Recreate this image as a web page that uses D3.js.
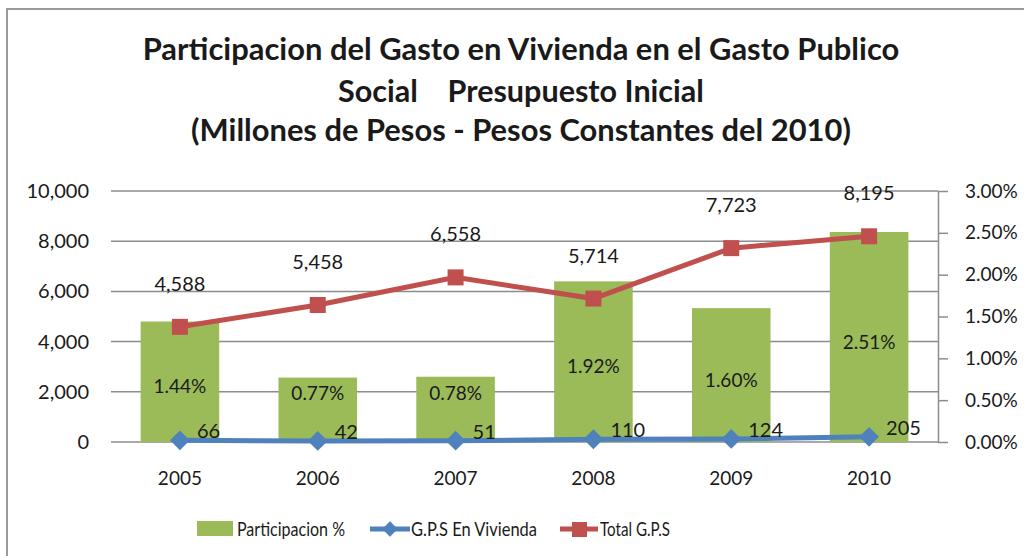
<!DOCTYPE html>
<html>
<head>
<meta charset="utf-8">
<script src="https://cdn.jsdelivr.net/npm/d3@7"></script>
<style>
  body { margin: 0; background: #fff; }
  svg { display: block; font-family: Lato, "Open Sans", sans-serif; }
</style>
</head>
<body>
<div id="chart"></div>
<script>
const years = ['2005', '2006', '2007', '2008', '2009', '2010'];
const participacion = [1.44, 0.77, 0.78, 1.92, 1.60, 2.51];
const gpsVivienda = [66, 42, 51, 110, 124, 205];
const totalGps = [4588, 5458, 6558, 5714, 7723, 8195];
const leftTicks = [0, 2000, 4000, 6000, 8000, 10000];
const rightTicks = [0, 0.5, 1, 1.5, 2, 2.5, 3];
const titleLines = [
    'Participacion del Gasto en Vivienda en el Gasto Publico',
    'Social\u00a0\u00a0\u00a0 Presupuesto Inicial',
    '(Millones de Pesos - Pesos Constantes del 2010)'
];

const W = 1024, H = 556;
const plot = { left: 111, right: 938, top: 191, bottom: 442 };
const labelSize = 19;

const svg = d3.select('#chart').append('svg')
    .attr('width', W)
    .attr('height', H);

// chart frame
svg.append('rect')
    .attr('x', 7).attr('y', 9)
    .attr('width', W + 20).attr('height', H + 20)
    .attr('fill', '#fff')
    .attr('stroke', '#9a9a9a')
    .attr('stroke-width', 2);

// title, each line fitted to its width in the reference
const titleY = [60, 102, 141];
const titleW = [757, 366, 660];
titleLines.forEach((t, i) => {
    const txt = svg.append('text')
        .attr('x', 521)
        .attr('y', titleY[i])
        .attr('text-anchor', 'middle')
        .attr('font-weight', 'bold')
        .attr('font-size', 28)
        .attr('fill', '#1a1a1a')
        .text(t);
    const len = txt.node().getComputedTextLength();
    txt.attr('font-size', 28 * titleW[i] / len);
});

const x = d3.scaleBand()
    .domain(years)
    .range([plot.left, plot.right])
    .paddingInner(0.43)
    .paddingOuter(0.215);

const xc = d => x(d) + x.bandwidth() / 2;

const yLeft = d3.scaleLinear().domain([0, 10000]).range([plot.bottom, plot.top]);
const yRight = d3.scaleLinear().domain([0, 3]).range([plot.bottom, plot.top]);

// gridlines
svg.append('g')
    .selectAll('line')
    .data(leftTicks)
    .enter().append('line')
    .attr('x1', plot.left).attr('x2', plot.right)
    .attr('y1', d => yLeft(d)).attr('y2', d => yLeft(d))
    .attr('stroke', '#8c8c8c')
    .attr('stroke-width', 1.5);

// left axis labels
svg.append('g')
    .selectAll('text')
    .data(leftTicks)
    .enter().append('text')
    .attr('x', 89)
    .attr('y', d => yLeft(d))
    .attr('dy', '0.35em')
    .attr('text-anchor', 'end')
    .attr('font-size', labelSize + 1)
    .attr('fill', '#1a1a1a')
    .text(d => d3.format(',')(d));

// right axis
const rightAxis = svg.append('g')
    .attr('transform', `translate(${plot.right},0)`)
    .call(d3.axisRight(yRight)
        .tickValues(rightTicks)
        .tickSize(10)
        .tickPadding(17)
        .tickSizeOuter(0)
        .tickFormat(d => d.toFixed(2) + '%'));
rightAxis.select('.domain').attr('stroke', '#8c8c8c').attr('stroke-width', 1.5);
rightAxis.selectAll('.tick line').attr('stroke', '#8c8c8c').attr('stroke-width', 1.5);
rightAxis.selectAll('.tick text')
    .attr('font-size', labelSize)
    .attr('font-family', 'Lato, "Open Sans", sans-serif')
    .attr('fill', '#1a1a1a');

// x labels
svg.append('g')
    .selectAll('text')
    .data(years)
    .enter().append('text')
    .attr('x', d => xc(d))
    .attr('y', 485)
    .attr('text-anchor', 'middle')
    .attr('font-size', labelSize)
    .attr('fill', '#1a1a1a')
    .text(d => d);

// bars
const barData = years.map((y, i) => ({ year: y, value: participacion[i] }));
svg.append('g')
    .selectAll('rect')
    .data(barData)
    .enter().append('rect')
    .attr('x', d => x(d.year))
    .attr('y', d => yRight(d.value))
    .attr('width', x.bandwidth())
    .attr('height', d => plot.bottom - yRight(d.value))
    .attr('fill', '#9bbb59');

svg.append('g')
    .selectAll('text')
    .data(barData)
    .enter().append('text')
    .attr('x', d => xc(d.year))
    .attr('y', d => Math.min((yRight(d.value) + plot.bottom) / 2 + 5, plot.bottom - 49))
    .attr('dy', '0.35em')
    .attr('text-anchor', 'middle')
    .attr('font-size', labelSize)
    .attr('fill', '#1a1a1a')
    .text(d => d.value.toFixed(2) + '%');

// Total G.P.S line
const totalData = years.map((y, i) => ({ year: y, value: totalGps[i] }));
const line = d3.line().x(d => xc(d.year)).y(d => yLeft(d.value));

svg.append('path')
    .datum(totalData)
    .attr('d', line)
    .attr('fill', 'none')
    .attr('stroke', '#c0504d')
    .attr('stroke-width', 5);

svg.append('g')
    .selectAll('rect')
    .data(totalData)
    .enter().append('rect')
    .attr('x', d => xc(d.year) - 8)
    .attr('y', d => yLeft(d.value) - 8)
    .attr('width', 16).attr('height', 16)
    .attr('fill', '#c0504d');

svg.append('g')
    .selectAll('text')
    .data(totalData)
    .enter().append('text')
    .attr('x', d => xc(d.year))
    .attr('y', d => yLeft(d.value) - 43)
    .attr('dy', '0.35em')
    .attr('text-anchor', 'middle')
    .attr('font-size', labelSize + 1)
    .attr('fill', '#1a1a1a')
    .text(d => d3.format(',')(d.value));

// G.P.S En Vivienda line
const vivData = years.map((y, i) => ({ year: y, value: gpsVivienda[i] }));
svg.append('path')
    .datum(vivData)
    .attr('d', line)
    .attr('fill', 'none')
    .attr('stroke', '#4f81bd')
    .attr('stroke-width', 5);

const diamond = d3.symbol().type(d3.symbolDiamond2).size(250);
svg.append('g')
    .selectAll('path')
    .data(vivData)
    .enter().append('path')
    .attr('d', diamond)
    .attr('transform', d => `translate(${xc(d.year)},${yLeft(d.value)})`)
    .attr('fill', '#4f81bd');

svg.append('g')
    .selectAll('text')
    .data(vivData)
    .enter().append('text')
    .attr('x', d => xc(d.year) + 17)
    .attr('y', d => yLeft(d.value) - 9)
    .attr('dy', '0.35em')
    .attr('font-size', labelSize + 1)
    .attr('fill', '#1a1a1a')
    .text(d => d.value);

// legend
const legend = svg.append('g').attr('font-size', 19).attr('fill', '#1a1a1a');
legend.append('rect')
    .attr('x', 197).attr('y', 521)
    .attr('width', 36).attr('height', 15)
    .attr('fill', '#9bbb59');
legend.append('text').attr('x', 237).attr('y', 529).attr('dy', '0.35em')
    .attr('textLength', 108).attr('lengthAdjust', 'spacingAndGlyphs')
    .text('Participacion %');

legend.append('line')
    .attr('x1', 370).attr('x2', 410).attr('y1', 529).attr('y2', 529)
    .attr('stroke', '#4f81bd').attr('stroke-width', 5);
legend.append('path')
    .attr('d', d3.symbol().type(d3.symbolDiamond2).size(150))
    .attr('transform', 'translate(390,529)')
    .attr('fill', '#4f81bd');
legend.append('text').attr('x', 411).attr('y', 529).attr('dy', '0.35em')
    .attr('textLength', 126).attr('lengthAdjust', 'spacingAndGlyphs')
    .text('G.P.S En Vivienda');

legend.append('line')
    .attr('x1', 560).attr('x2', 598).attr('y1', 529).attr('y2', 529)
    .attr('stroke', '#c0504d').attr('stroke-width', 5);
legend.append('rect')
    .attr('x', 572).attr('y', 522).attr('width', 15).attr('height', 15)
    .attr('fill', '#c0504d');
legend.append('text').attr('x', 600).attr('y', 529).attr('dy', '0.35em')
    .attr('textLength', 70).attr('lengthAdjust', 'spacingAndGlyphs')
    .text('Total G.P.S');
</script>
</body>
</html>
